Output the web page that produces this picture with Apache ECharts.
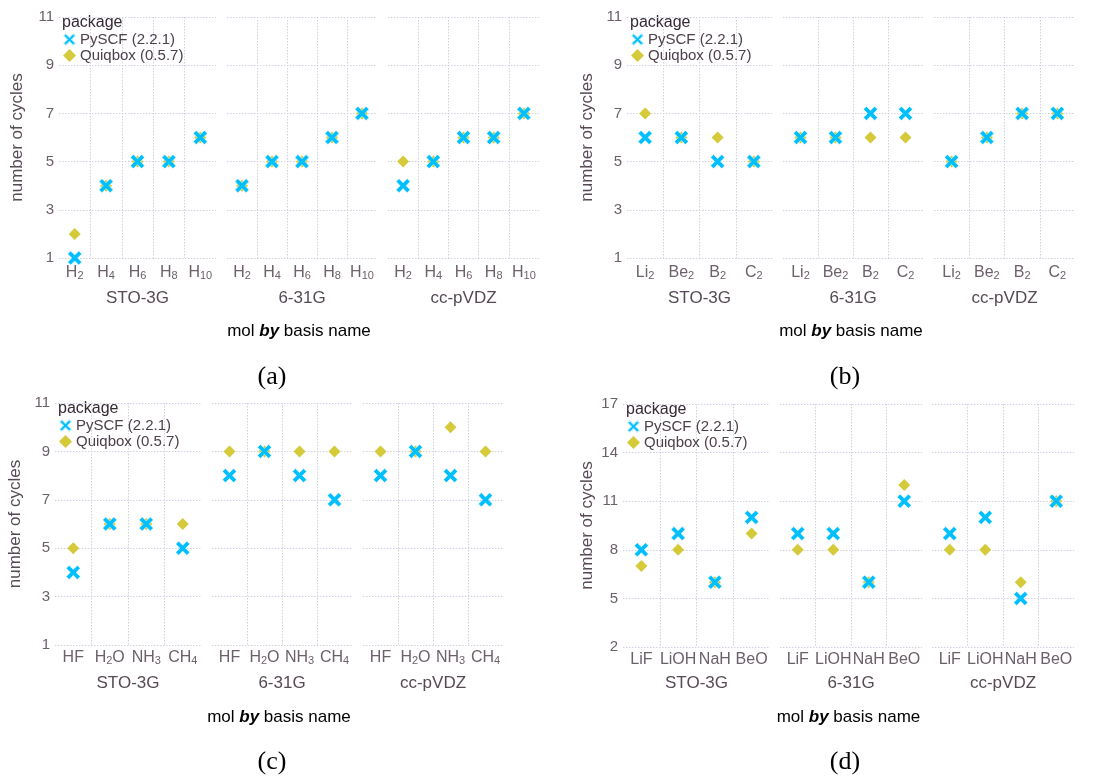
<!DOCTYPE html>
<html><head><meta charset="utf-8">
<script src="https://cdn.jsdelivr.net/npm/echarts@6/dist/echarts.min.js"></script>
<style>html,body{margin:0;padding:0;background:#fff}#c{width:1109px;height:777px}</style>
</head><body><div id="c"></div>
<script>
// ---------------- data ----------------
const seriesNames = ['PySCF (2.2.1)', 'Quiqbox (0.5.7)'];
const basisNames = ['STO-3G', '6-31G', 'cc-pVDZ'];
const yTicksABC = [1, 3, 5, 7, 9, 11];
const yTicksD = [2, 5, 8, 11, 14, 17];

const molsA = ['H₂', 'H₄', 'H₆', 'H₈', 'H₁₀'];
const pyscfA_sto = [1, 4, 5, 5, 6];
const pyscfA_631 = [4, 5, 5, 6, 7];
const pyscfA_ccp = [4, 5, 6, 6, 7];
const quiqA_sto = [2, 4, 5, 5, 6];
const quiqA_631 = [4, 5, 5, 6, 7];
const quiqA_ccp = [5, 5, 6, 6, 7];

const molsB = ['Li₂', 'Be₂', 'B₂', 'C₂'];
const pyscfB_sto = [6, 6, 5, 5];
const pyscfB_631 = [6, 6, 7, 7];
const pyscfB_ccp = [5, 6, 7, 7];
const quiqB_sto = [7, 6, 6, 5];
const quiqB_631 = [6, 6, 6, 6];
const quiqB_ccp = [5, 6, 7, 7];

const molsC = ['HF', 'H₂O', 'NH₃', 'CH₄'];
const pyscfC_sto = [4, 6, 6, 5];
const pyscfC_631 = [8, 9, 8, 7];
const pyscfC_ccp = [8, 9, 8, 7];
const quiqC_sto = [5, 6, 6, 6];
const quiqC_631 = [9, 9, 9, 9];
const quiqC_ccp = [9, 9, 10, 9];

const molsD = ['LiF', 'LiOH', 'NaH', 'BeO'];
const pyscfD_sto = [8, 9, 6, 10];
const pyscfD_631 = [9, 9, 6, 11];
const pyscfD_ccp = [9, 10, 5, 11];
const quiqD_sto = [7, 8, 6, 9];
const quiqD_631 = [8, 8, 6, 12];
const quiqD_ccp = [8, 8, 6, 11];

const panelData = [
  { mols: molsA, ticks: yTicksABC, py: [pyscfA_sto, pyscfA_631, pyscfA_ccp], qb: [quiqA_sto, quiqA_631, quiqA_ccp], tag: '(a)' },
  { mols: molsB, ticks: yTicksABC, py: [pyscfB_sto, pyscfB_631, pyscfB_ccp], qb: [quiqB_sto, quiqB_631, quiqB_ccp], tag: '(b)' },
  { mols: molsC, ticks: yTicksABC, py: [pyscfC_sto, pyscfC_631, pyscfC_ccp], qb: [quiqC_sto, quiqC_631, quiqC_ccp], tag: '(c)' },
  { mols: molsD, ticks: yTicksD, py: [pyscfD_sto, pyscfD_631, pyscfD_ccp], qb: [quiqD_sto, quiqD_631, quiqD_ccp], tag: '(d)' }
];

// ---------------- layout ----------------
const layouts = [
  { facets: [[59, 216], [227, 377], [388, 539]], top: 17, bottom: 258, ytx: 17, labMargin: 7, facY: 298, titY: 331, tagX: 272, tagY: 377 },
  { facets: [[627, 772], [783, 923], [934, 1075]], top: 17, bottom: 258, ytx: 587, labMargin: 7, facY: 298, titY: 331, tagX: 845, tagY: 377 },
  { facets: [[55, 201], [212, 352], [363, 503]], top: 403, bottom: 645, ytx: 15, labMargin: 5, facY: 683, titY: 717, tagX: 272, tagY: 762 },
  { facets: [[623, 770], [780, 922], [932, 1074]], top: 404, bottom: 647, ytx: 587, labMargin: 5, facY: 683, titY: 717, tagX: 845, tagY: 762 }
];

const FONT = '"Liberation Sans", Arial, sans-serif';
const C_TICK = '#6c606b';
const C_LAB = '#564a55';
const C_KEY = '#362a35';
const GRID_C = '#d0d0e0';
const CYAN = '#00bfff';
const YELLOW = '#d4ca3a';
const XPATH = 'path://M-3,-1.75L-1.75,-3L0,-1.25L1.75,-3L3,-1.75L1.25,0L3,1.75L1.75,3L0,1.25L-1.75,3L-3,1.75L-1.25,0Z';

const SUBS = '₀₁₂₃₄₅₆₇₈₉';
function molFmt(v) {
  let out = '', cur = '', mode = null;
  for (const ch of v) {
    const i = SUBS.indexOf(ch);
    const m = i >= 0 ? 's' : 'm';
    const c = i >= 0 ? String(i) : ch;
    if (m !== mode) { if (mode) out += '{' + mode + '|' + cur + '}'; cur = ''; mode = m; }
    cur += c;
  }
  if (mode) out += '{' + mode + '|' + cur + '}';
  return out;
}

const grids = [], xAxes = [], yAxes = [], series = [], legends = [], graphics = [];
let gi = 0;
panelData.forEach((pd, p) => {
  const L = layouts[p];
  L.facets.forEach((f, k) => {
    grids.push({ left: f[0], width: f[1] - f[0], top: L.top, height: L.bottom - L.top, containLabel: false });
    xAxes.push({
      type: 'category', gridIndex: gi, data: pd.mols,
      axisLine: { show: false }, axisTick: { show: false },
      axisLabel: {
        interval: 0, margin: L.labMargin, formatter: molFmt,
        rich: {
          m: { fontSize: 16, fontFamily: FONT, color: C_TICK, verticalAlign: 'bottom', lineHeight: 16 },
          s: { fontSize: 11, fontFamily: FONT, color: C_TICK, verticalAlign: 'bottom', lineHeight: 15 }
        }
      },
      splitLine: { show: true, interval: 0, showMinLine: false, showMaxLine: false, lineStyle: { color: GRID_C, width: 1, type: [1.5, 1.5] } }
    });
    yAxes.push({
      type: 'value', gridIndex: gi, min: pd.ticks[0], max: pd.ticks[pd.ticks.length - 1],
      axisLine: { show: false },
      axisTick: { show: false, customValues: pd.ticks },
      axisLabel: { show: k === 0, customValues: pd.ticks, margin: 5, fontSize: 15, fontFamily: FONT, color: C_TICK },
      splitLine: { show: true, lineStyle: { color: GRID_C, width: 1, type: [1.5, 1.5] } }
    });
    series.push({
      name: seriesNames[1], type: 'scatter', xAxisIndex: gi, yAxisIndex: gi,
      data: pd.qb[k], symbol: 'diamond', symbolSize: 12,
      itemStyle: { color: YELLOW, opacity: 1 }, silent: true
    });
    series.push({
      name: seriesNames[0], type: 'scatter', xAxisIndex: gi, yAxisIndex: gi,
      data: pd.py[k], symbol: XPATH, symbolSize: 14,
      itemStyle: { color: CYAN, opacity: 1, borderColor: 'rgba(255,255,255,0.7)', borderWidth: 0.6 }, silent: true
    });
    graphics.push({ type: 'text', x: (f[0] + f[1]) / 2, y: L.facY,
      style: { text: basisNames[k], textAlign: 'center', textVerticalAlign: 'middle', fontSize: 17, fontFamily: FONT, fill: C_LAB } });
    gi++;
  });
  const x0 = L.facets[0][0], x1 = L.facets[2][1];
  const cx = (x0 + x1) / 2;
  graphics.push({ type: 'text', x: cx, y: L.titY,
    style: { text: '{a|mol }{b|by}{a| basis name}', textAlign: 'center', textVerticalAlign: 'middle',
      rich: { a: { fontSize: 17, fontFamily: FONT, color: C_LAB }, b: { fontSize: 17, fontFamily: FONT, color: C_LAB, fontWeight: 'bold', fontStyle: 'italic' } } } });
  graphics.push({ type: 'text', x: L.ytx, y: (L.top + L.bottom) / 2, rotation: Math.PI / 2,
    style: { text: 'number of cycles', textAlign: 'center', textVerticalAlign: 'middle', fontSize: 17, fontFamily: FONT, fill: C_LAB } });
  graphics.push({ type: 'text', x: L.tagX, y: L.tagY,
    style: { text: pd.tag, textAlign: 'center', textVerticalAlign: 'middle', fontSize: 26, fontFamily: '"Liberation Serif", "DejaVu Serif", serif', fill: '#000' } });
  graphics.push({ type: 'text', x: x0 + 3, y: L.top + 6,
    style: { text: 'package', textAlign: 'left', textVerticalAlign: 'middle', fontSize: 16, fontFamily: FONT, fill: C_KEY } });
  legends.push({
    data: seriesNames, orient: 'vertical', left: x0 + 3, top: L.top + 15,
    itemWidth: 13, itemHeight: 13, itemGap: 1, padding: 0, selectedMode: false,
    textStyle: { fontSize: 15, fontFamily: FONT, color: '#4c404b', padding: [0, 0, 0, -1] }
  });
});

const chart = echarts.init(document.getElementById('c'), null, { renderer: 'canvas' });
chart.setOption({
  backgroundColor: '#fff',
  animation: false,
  grid: grids, xAxis: xAxes, yAxis: yAxes, series: series, legend: legends,
  graphic: { elements: graphics }
});
</script></body></html>
